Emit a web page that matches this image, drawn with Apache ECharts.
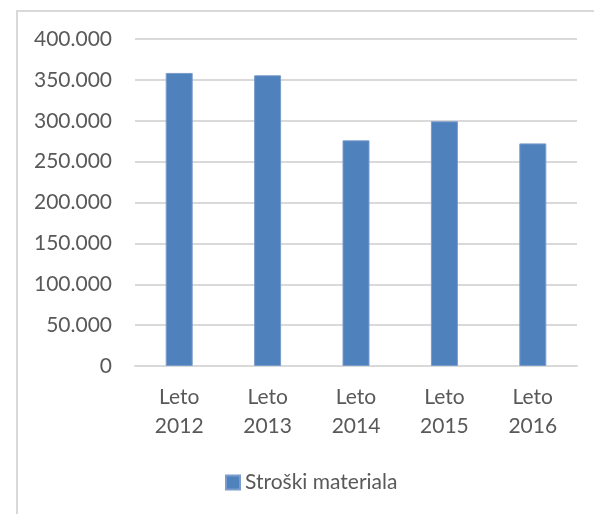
<!DOCTYPE html>
<html>
<head>
<meta charset="utf-8">
<script src="https://cdn.jsdelivr.net/npm/echarts@6/dist/echarts.min.js"></script>
<style>
  html, body { margin: 0; padding: 0; background: #fff; }
  #chart { width: 594px; height: 514px; }
  .frame {
    position: absolute; left: 16px; top: 10px; width: 600px; height: 520px;
    border-left: 2px solid #d9d9d9; border-top: 2px solid #d9d9d9;
    pointer-events: none;
  }
</style>
</head>
<body>
<div id="chart"></div>
<div class="frame"></div>
<script>
const categories = ['Leto\n2012', 'Leto\n2013', 'Leto\n2014', 'Leto\n2015', 'Leto\n2016'];
const seriesName = 'Stroški materiala';
const values = [358500, 355600, 276000, 299300, 272300];

const fontFamily = 'Lato, "Open Sans", sans-serif';
const textColor = '#595959';

const chart = echarts.init(document.getElementById('chart'));

// pika kot ločilo tisočic
const fmt = (v) => String(v).replace(/\B(?=(\d{3})+(?!\d))/g, '.');

chart.setOption({
  animation: false,
  grid: { left: 135, right: 17, top: 39, bottom: 148 },
  legend: {
    data: [seriesName],
    left: 225,
    top: 472,
    padding: 0,
    icon: 'rect',
    itemWidth: 14,
    itemHeight: 14,
    itemGap: 5,
    textStyle: { color: textColor, fontSize: 21, fontFamily: fontFamily }
  },
  xAxis: {
    type: 'category',
    data: categories,
    axisLine: { lineStyle: { color: '#d9d9d9', width: 2 } },
    axisTick: { show: false },
    axisLabel: {
      color: textColor,
      fontSize: 21,
      fontFamily: fontFamily,
      lineHeight: 29,
      margin: 17
    }
  },
  yAxis: {
    type: 'value',
    min: 0,
    max: 400000,
    interval: 50000,
    axisLine: { show: false },
    axisTick: { show: false },
    splitLine: { lineStyle: { color: '#d9d9d9', width: 2 } },
    axisLabel: {
      color: textColor,
      fontSize: 21,
      fontFamily: fontFamily,
      margin: 23,
      formatter: fmt
    }
  },
  series: [{
    name: seriesName,
    type: 'bar',
    data: values,
    barWidth: 27,
    itemStyle: { color: '#4f81bd', borderColor: '#7a9ccc', borderWidth: 1 }
  }]
});
</script>
</body>
</html>
